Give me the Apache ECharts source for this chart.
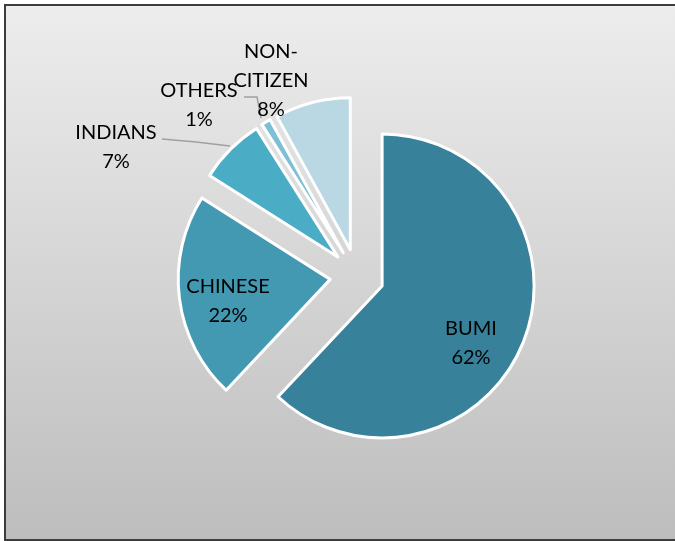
<!DOCTYPE html>
<html>
<head>
<meta charset="utf-8">
<script src="https://cdn.jsdelivr.net/npm/echarts@6/dist/echarts.min.js"></script>
<style>
  html, body { margin: 0; padding: 0; background: #fff; }
  #chart { width: 675px; height: 541px; }
</style>
</head>
<body>
<div id="chart"></div>
<script>
// population share by group
const groups = ["BUMI", "CHINESE", "INDIANS", "OTHERS", "NON-CITIZEN"];
const shares = [62, 22, 7, 1, 8];
const colors = ["#37829a", "#4399b1", "#4bacc6", "#7dc0d5", "#b9d8e4"];

// where Excel put each label (centre of the text block)
const labelSpots = {
  "BUMI": [471, 343],
  "CHINESE": [228, 301],
  "INDIANS": [116, 147],
  "OTHERS": [199, 105],
  "NON-CITIZEN": [271, 81]
};
const leaderLines = {
  "INDIANS": [[230, 146], [196, 142], [162, 139]],
  "OTHERS": [[261, 118], [257, 97], [244, 97]]
};

const pieCenter = [357, 276];
const pieRadius = 152;
const explode = 27;

const chart = echarts.init(document.getElementById("chart"));

// every slice is pulled out along its own mid angle, so each one gets its own series
const total = shares.reduce((a, b) => a + b, 0);
let acc = 0;
const sliceSeries = groups.map((g, i) => {
  const mid = ((acc + shares[i] / 2) / total) * Math.PI * 2;
  acc += shares[i];
  return {
    type: "pie",
    center: [pieCenter[0] + explode * Math.sin(mid), pieCenter[1] - explode * Math.cos(mid)],
    radius: pieRadius,
    startAngle: 90,
    clockwise: true,
    silent: true,
    label: {
      color: "#000",
      fontFamily: "Lato",
      fontSize: 20,
      lineHeight: 29,
      align: "center",
      formatter: (p) => p.name.replace("-", "-\n") + "\n" + p.percent.toFixed(0) + "%"
    },
    labelLine: {
      length: 10,
      length2: 10,
      lineStyle: { color: "#a0a0a0", width: 1.5 }
    },
    labelLayout: (p) => {
      const spot = labelSpots[groups[p.dataIndex]];
      const out = { x: spot[0], y: spot[1], align: "center", verticalAlign: "middle" };
      if (leaderLines[groups[p.dataIndex]]) out.labelLinePoints = leaderLines[groups[p.dataIndex]];
      return out;
    },
    data: groups.map((name, j) => ({
      name: name,
      value: shares[j],
      itemStyle: j === i
        ? { color: colors[j], borderColor: "#ffffff", borderWidth: 3 }
        : { color: "transparent", borderWidth: 0 },
      label: { show: j === i },
      labelLine: { show: j === i && !!leaderLines[name] }
    }))
  };
});

const option = {
  animation: false,
  graphic: [
    {
      type: "rect",
      z: -10,
      silent: true,
      shape: { x: 5, y: 5, width: 690, height: 535 },
      style: {
        fill: new echarts.graphic.LinearGradient(0, 0, 0, 1, [
          { offset: 0, color: "#ededed" },
          { offset: 1, color: "#bdbdbd" }
        ]),
        stroke: "#3c3c3c",
        lineWidth: 2
      }
    }
  ],
  series: sliceSeries
};

chart.setOption(option);
</script>
</body>
</html>
